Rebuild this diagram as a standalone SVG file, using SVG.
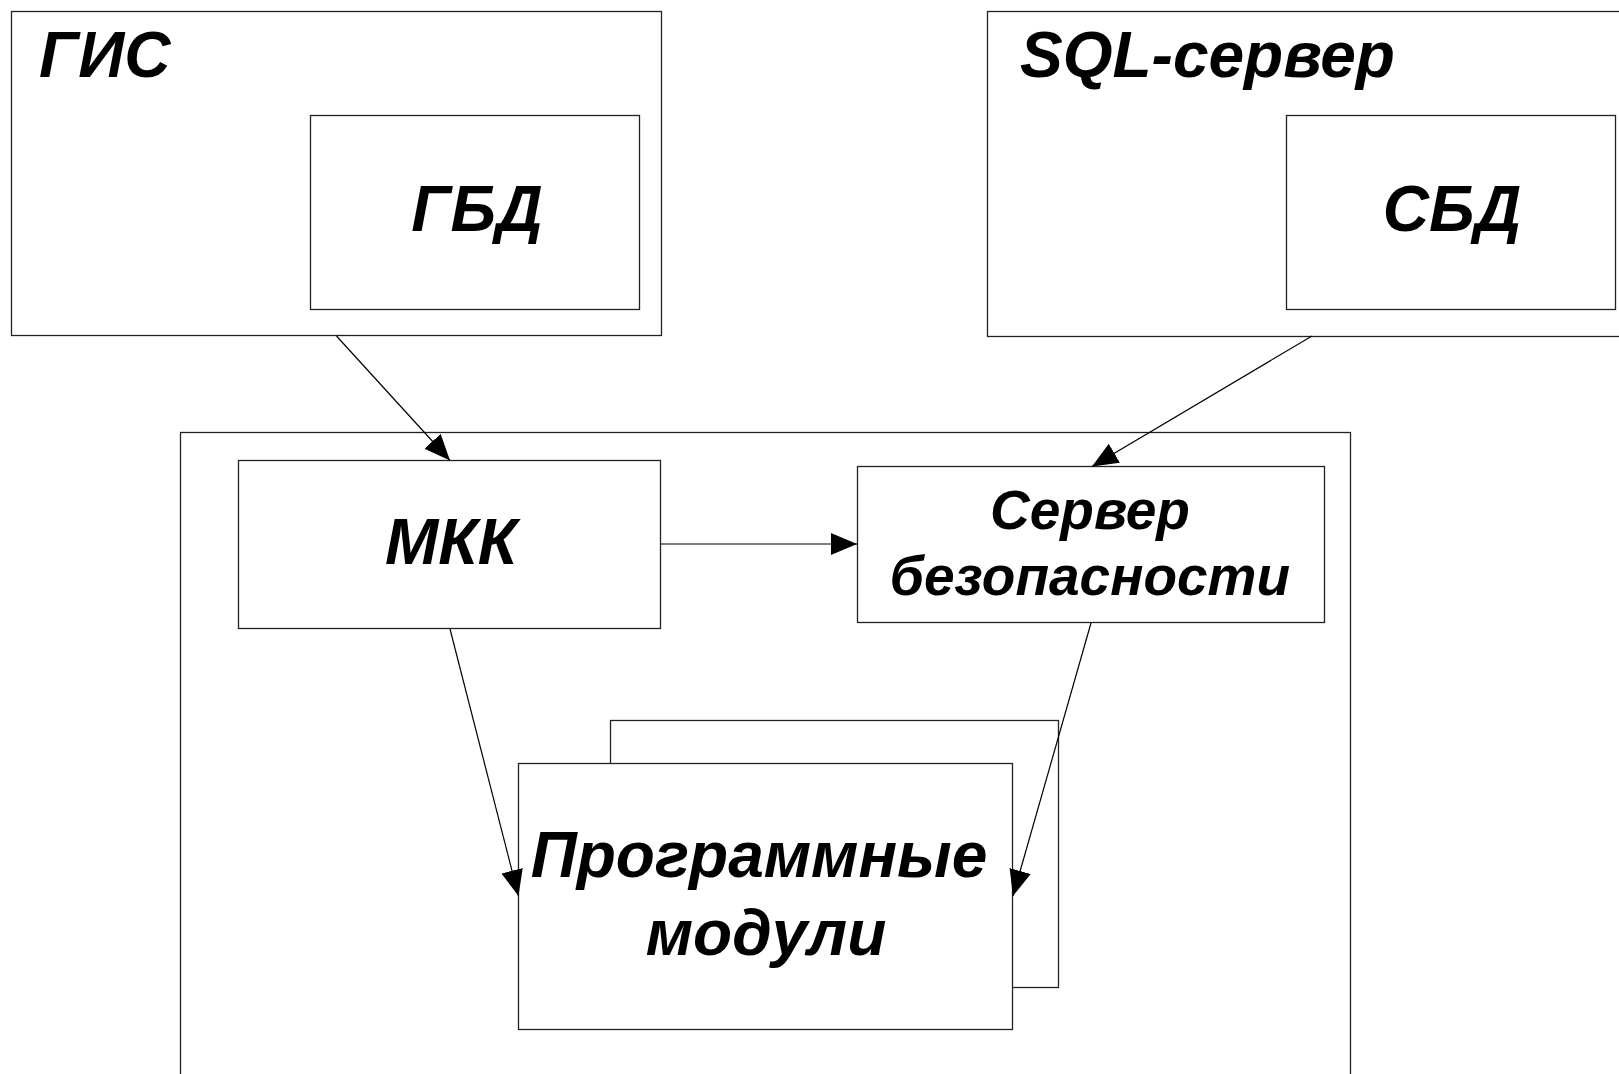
<svg xmlns="http://www.w3.org/2000/svg" width="1619" height="1074" viewBox="0 0 1619 1074">
<style>
.box{fill:#fff;stroke:#222;stroke-width:1.3}
.t{font-family:"Liberation Sans",Arial,sans-serif;font-weight:bold;font-style:italic;font-size:64px;fill:#000}
.s{font-size:55px}
.c{stroke:#000;stroke-width:1.2;fill:none}
</style>
<defs>
<marker id="ah" viewBox="0 0 26 22" refX="26" refY="11" markerWidth="26" markerHeight="22" markerUnits="userSpaceOnUse" orient="auto">
<path d="M0,0 L26,11 L0,22 Z" fill="#000"/>
</marker>
</defs>
<rect width="1619" height="1074" fill="#fff"/>
<g id="gis">
<rect class="box" x="11.5" y="11.5" width="650" height="324"/>
<text class="t" x="39" y="77">ГИС</text>
</g>
<g id="gbd">
<rect class="box" x="310.5" y="115.5" width="329" height="194"/>
<text class="t" x="477" y="231" text-anchor="middle">ГБД</text>
</g>
<g id="sql">
<rect class="box" x="987.5" y="11.5" width="650" height="325"/>
<text class="t" x="1020" y="77">SQL-сервер</text>
</g>
<g id="sbd">
<rect class="box" x="1286.5" y="115.5" width="329" height="194"/>
<text class="t" x="1452" y="231" text-anchor="middle">СБД</text>
</g>
<g id="container">
<rect class="box" x="180.5" y="432.5" width="1170" height="700"/>
</g>
<g id="mkk">
<rect class="box" x="238.5" y="460.5" width="422" height="168"/>
<text class="t" x="451" y="564" text-anchor="middle">МКК</text>
</g>
<g id="server">
<rect class="box" x="857.5" y="466.5" width="467" height="156"/>
<text class="t s" x="1090" y="529" text-anchor="middle">Сервер</text>
<text class="t s" x="1090" y="595" text-anchor="middle">безопасности</text>
</g>
<g id="modules">
<rect class="box" x="610.5" y="720.5" width="448" height="267"/>
<rect class="box" x="518.5" y="763.5" width="494" height="266"/>
<text class="t" x="759" y="877" text-anchor="middle">Программные</text>
<text class="t" x="766" y="955" text-anchor="middle">модули</text>
</g>
<g id="connectors">
<line class="c" x1="336.5" y1="336" x2="450" y2="460.5" marker-end="url(#ah)"/>
<line class="c" x1="1312" y1="336" x2="1092" y2="466.5" marker-end="url(#ah)"/>
<line class="c" x1="661" y1="544" x2="857" y2="544" marker-end="url(#ah)"/>
<line class="c" x1="450" y1="629" x2="518.5" y2="896" marker-end="url(#ah)"/>
<line class="c" x1="1091" y1="623" x2="1013" y2="896" marker-end="url(#ah)"/>
</g>
</svg>
